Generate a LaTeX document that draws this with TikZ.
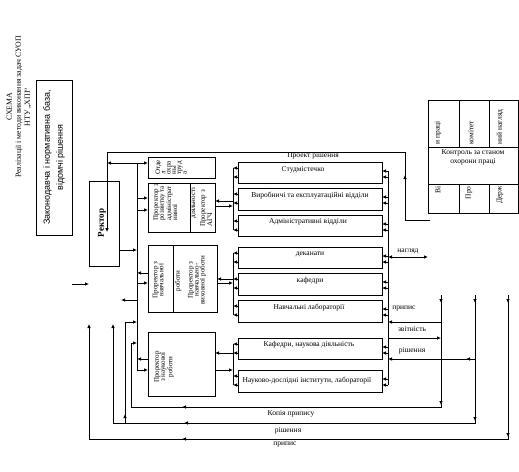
\documentclass[tikz,border=0pt]{standalone}
\usepackage{fontspec}
\setmainfont{Liberation Serif}
\newfontfamily\sansfam{Liberation Sans}
\usetikzlibrary{arrows.meta,decorations.markings,calc}
\begin{document}
\begin{tikzpicture}[x=1pt,y=-1pt,line width=0.8pt,
  >={Latex[length=4pt,width=3.6pt]},
  bx/.style={draw,rectangle,inner sep=0pt,outer sep=0pt,anchor=north west},
  tx/.style={inner sep=0pt,font=\fontsize{7.5}{8}\selectfont},
  rt/.style={rotate=90,inner sep=0pt,font=\fontsize{7}{6}\selectfont},
  frag/.style={rotate=90,inner sep=0pt,font=\fontsize{7.5}{8}\selectfont},
  amark/.style={postaction={decorate,decoration={markings,mark=at position #1 with {\arrow{>}}}}},
]
\useasboundingbox (0,0) rectangle (519,471);

% title
\node[rotate=90,align=center,inner sep=0pt,font=\fontsize{7.8}{9}\selectfont] (title) at (19,107)
  {СХЕМА\\Реалізації і методи виконання задач СУОП\\НТУ „ХПІ“};

% legal base
\node[bx,minimum width=36pt,minimum height=155pt] (zak) at (36,80) {};
\node[rotate=90,align=center,inner sep=0pt,font=\sansfam\fontsize{9}{13}\selectfont] (zaktxt) at (zak.center)
  {Законодавча і нормативна база,\\відомчі рішення};

% rector
\node[bx,minimum width=30pt,minimum height=85pt] (rector) at (89,181) {};
\node[rotate=90,inner sep=0pt,font=\fontsize{9}{10}\selectfont\bfseries] (rectortxt) at (102,223) {Ректор};

% left column boxes
\node[bx,minimum width=67pt,minimum height=21pt] (otdel) at (148,157) {};
\node[rt,align=left,anchor=north west,font=\fontsize{7}{5.3}\selectfont] (otdeltxt) at (155,175)
  {Отде\\л\\охра\\ны\\труд\\а};

\node[bx,minimum width=67pt,minimum height=49pt] (rozv) at (148,183) {};
\draw ($(rozv.north west)+(42,0)$) -- ($(rozv.south west)+(42,0)$);
\node[rt,align=left,anchor=north west] (rozvtxt) at (153,221) {Проректор з\\розвитку та\\адміністрат\\ивної};
\node[rt] (rozvtxt2) at (193.5,203) {діяльності};
\node[rt,align=left,anchor=north west] (agchtxt) at (200,227) {Проректор з\\АГЧ};

\node[bx,minimum width=69pt,minimum height=67pt] (navch) at (148,245) {};
\draw ($(navch.north west)+(25,0)$) -- ($(navch.south west)+(25,0)$);
\node[rt,align=center] (navchtxt) at (158,280) {Проректор з\\навчальної};
\node[rt] (navchtxt2) at (178,281) {роботи};
\node[rt,align=center] (nvtxt) at (197,280) {Проректор з\\навчально-\\виховної роботи};

\node[bx,minimum width=67pt,minimum height=64pt] (nauk) at (148,332) {};
\node[rt,align=center] (nauktxt) at (164,367) {Проректор\\з наукової\\роботи};

% right column boxes
\node[bx,minimum width=144pt,minimum height=21pt] (st) at (238,162) {};
\node[tx] (sttxt) at (303,169.5) {Студмістечко};
\node[bx,minimum width=144pt,minimum height=22pt] (vyr) at (238,188) {};
\node[tx] (vyrtxt) at (310,195.5) {Виробничі та експлуатаційні відділи};
\node[bx,minimum width=144pt,minimum height=21pt] (adm) at (238,215) {};
\node[tx] (admtxt) at (308,222) {Адміністративні відділи};
\node[bx,minimum width=144pt,minimum height=21pt] (dek) at (238,247) {};
\node[tx] (dektxt) at (310,254.5) {деканати};
\node[bx,minimum width=144pt,minimum height=22pt] (kaf) at (238,273) {};
\node[tx] (kaftxt) at (310,281) {кафедри};
\node[bx,minimum width=144pt,minimum height=22pt] (lab) at (238,300) {};
\node[tx] (labtxt) at (309,307.5) {Навчальні лабораторії};
\node[bx,minimum width=144pt,minimum height=21pt] (kn) at (238,338) {};
\node[tx] (kntxt) at (309,345) {Кафедри, наукова діяльність};
\node[bx,minimum width=144pt,minimum height=22pt] (ndi) at (238,370) {};
\node[tx] (nditxt) at (307,381) {Науково-дослідні інститути, лабораторії};

% control box
\node[bx,minimum width=90.5pt,minimum height=113pt] (kontrol) at (428,100) {};
\draw ($(kontrol.north west)+(0,47)$) -- ($(kontrol.north east)+(0,47)$);
\draw ($(kontrol.north west)+(0,84)$) -- ($(kontrol.north east)+(0,84)$);
\foreach \dx in {31,61} {
  \draw ($(kontrol.north west)+(\dx,0)$) -- ++(0,47);
  \draw ($(kontrol.south west)+(\dx,0)$) -- ++(0,-29);
}
\node[tx,align=center,font=\fontsize{7.5}{9}\selectfont] (kontroltxt) at (473,157) {Контроль за станом\\охорони праці};
\node[frag,anchor=west] (f1) at (438,145) {и праці};
\node[frag,anchor=west] (f2) at (471,145) {комітет};
\node[frag,anchor=west] (f3) at (500,145) {ний нагляд};
\node[frag,anchor=east] (f4) at (438,186) {Ві};
\node[frag,anchor=east] (f5) at (469,186) {Про};
\node[frag,anchor=east] (f6) at (500,186) {Держ};

% box ticks to group lines and right bus
\foreach \bn in {st,vyr,adm,dek,kaf,lab,kn,ndi} {
  \draw[<-] ($(\bn.north west)+(-5,6)$) -- ($(\bn.north west)+(0,6)$);
  \draw[<-] ($(\bn.north west)+(-5,15)$) -- ($(\bn.north west)+(0,15)$);
  \draw[<-] ($(\bn.north east)+(0,9)$) -- ($(\bn.north east)+(6,9)$);
  \draw[<-] ($(\bn.north east)+(0,15)$) -- ($(\bn.north east)+(6,15)$);
}
\draw ($(st.north west)+(-5,6)$) -- ($(adm.north west)+(-5,15)$);
\draw ($(dek.north west)+(-5,6)$) -- ($(lab.north west)+(-5,15)$);
\draw ($(kn.north west)+(-5,6)$) -- ($(ndi.north west)+(-5,15)$);
\draw ($(st.north east)+(6,9)$) -- ($(ndi.north east)+(6,15)$);

% pro-rectors to groups
\draw[<-] ($(rozv.north east)+(0,18)$) -- ++(18,0);
\draw[->] ($(rozv.north east)+(0,23)$) -- ++(18,0);
\draw[<-] ($(navch.north east)+(0,34)$) -- ++(16,0);
\draw[->] ($(navch.north east)+(0,38)$) -- ++(16,0);
\draw[<-] ($(nauk.north east)+(0,21)$) -- ++(18,0);
\draw[->] ($(nauk.north east)+(0,38)$) -- ++(18,0);

% left bus
\draw[<->] ($(otdel.north west)+(0,6)$) -- ++(-41,0);
\draw[->] ($(otdel.north west)+(-11,6)$) -- ($(nauk.north west)+(-11,38)$) -- ($(nauk.north west)+(0,38)$);
\draw[->] ($(rozv.north west)+(-11,15)$) -- ++(11,0);
\draw[->] ($(rozv.north west)+(-11,27)$) -- ++(11,0);
\draw[->] ($(rector.north east)+(0,69)$) -- ++(18,0);
\draw[->] ($(navch.north west)+(0,28)$) -- ++(-11,0);
\draw[->] ($(navch.north west)+(-11,38)$) -- ++(11,0);
\draw[->] ($(rector.south east)+(18,34)$) -- ++(-16,0);
\draw[->] ($(nauk.north west)+(0,27)$) -- ++(-11,0);

% input arrow
\coordinate (inA) at (72,284);
\coordinate (inB) at (89,284);
\draw[->] (inA) -- (inB);

% project decision
\coordinate (pr) at (430,220);
\draw[->,amark=70pt] (pr) -- (405,220) -- (405,152) -- (107,152) -- ($(rector.north west)+(18,51)$);
\node[tx] (prtxt) at (313,156) {Проект рішення};

% right outputs
\coordinate (vA) at (441,295);
\coordinate (vB) at (475,295);
\coordinate (vC) at (508,295);
\draw[<->] ($(dek.north east)+(6,10)$) -- ++(40,0);
\node[tx] (nagl) at (408,251) {нагляд};
\draw[->] (vA |- lab.south east) -- ($(lab.south east)+(6,0)$);
\node[tx] (prypys1) at (404,309) {припис};
\draw[->] ($(kn.north east)+(6,0)$) -- (vA |- kn.north east);
\node[tx] (zvit) at (412,329) {звітність};
\draw[->,amark=9pt] (vB |- kn.south east) -- ($(kn.south east)+(6,0)$);
\node[tx] (rish1) at (412,351) {рішення};

\draw[->,amark=8pt,amark=110pt,amark=371pt] (vA) -- (441,407) -- (131,407) -- (131,343) -- (137,343);
\node[tx] (kopia) at (291,414) {Копія припису};
\draw[->,amark=8pt,amark=126pt,amark=419pt] (vB) -- (475,423) -- (113,423) -- (113,324);
\draw[->,amark=9pt] (125,423) -- (125,322) -- (137,322);
\node[tx] (rish2) at (288,431) {рішення};
\draw[->,amark=8pt,amark=142pt,amark=470pt] (vC) -- (508,439) -- (89,439) -- (89,324);
\node[tx] (prypys2) at (285,445) {припис};
\end{tikzpicture}
\end{document}
